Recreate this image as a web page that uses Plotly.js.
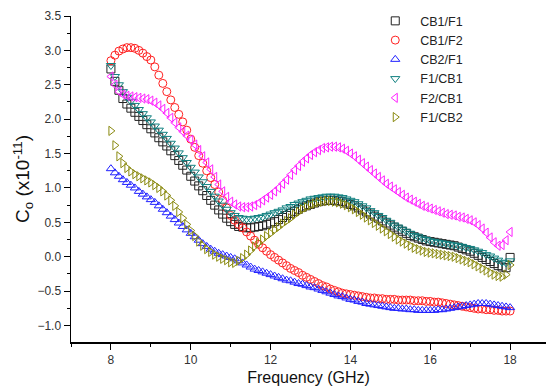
<!DOCTYPE html>
<html>
<head>
<meta charset="utf-8">
<script src="https://cdn.plot.ly/plotly-3.0.1.min.js"></script>
<style>html,body{margin:0;padding:0;background:#fff;}#chart{width:546px;height:387px;}</style>
</head>
<body>
<div id="chart"></div>
<script>
const freq = [8.0,8.1,8.2,8.3,8.4,8.5,8.6,8.7,8.8,8.9,
  9.0,9.1,9.2,9.3,9.4,9.5,9.6,9.7,9.8,9.9,
  10.0,10.1,10.2,10.3,10.4,10.5,10.6,10.7,10.8,10.9,
  11.0,11.1,11.2,11.3,11.4,11.5,11.6,11.7,11.8,11.9,
  12.0,12.1,12.2,12.3,12.4,12.5,12.6,12.7,12.8,12.9,
  13.0,13.1,13.2,13.3,13.4,13.5,13.6,13.7,13.8,13.9,
  14.0,14.1,14.2,14.3,14.4,14.5,14.6,14.7,14.8,14.9,
  15.0,15.1,15.2,15.3,15.4,15.5,15.6,15.7,15.8,15.9,
  16.0,16.1,16.2,16.3,16.4,16.5,16.6,16.7,16.8,16.9,
  17.0,17.1,17.2,17.3,17.4,17.5,17.6,17.7,17.8,17.9,
  18.0];

const cb1_f1 = [2.73,2.55,2.42,2.30,2.22,2.16,2.10,2.04,1.98,1.92,
  1.86,1.80,1.73,1.67,1.61,1.54,1.47,1.40,1.33,1.26,
  1.17,1.10,1.03,0.96,0.89,0.82,0.75,0.68,0.62,0.56,
  0.51,0.47,0.44,0.43,0.42,0.42,0.43,0.44,0.45,0.47,
  0.49,0.51,0.54,0.57,0.60,0.63,0.66,0.69,0.72,0.74,
  0.76,0.78,0.80,0.81,0.82,0.82,0.82,0.81,0.80,0.78,
  0.76,0.74,0.71,0.68,0.65,0.62,0.59,0.56,0.52,0.49,
  0.46,0.43,0.40,0.37,0.34,0.31,0.29,0.27,0.25,0.23,
  0.22,0.21,0.20,0.19,0.18,0.17,0.16,0.14,0.12,0.10,
  0.08,0.05,0.02,-0.01,-0.04,-0.07,-0.10,-0.13,-0.15,-0.16,
  -0.01];

const cb1_f2 = [2.85,2.93,2.99,3.02,3.04,3.04,3.03,3.00,2.96,2.91,
  2.86,2.76,2.64,2.52,2.40,2.28,2.17,2.07,1.96,1.84,
  1.71,1.59,1.47,1.36,1.25,1.15,1.05,0.94,0.82,0.71,
  0.60,0.53,0.47,0.42,0.36,0.30,0.24,0.18,0.13,0.08,
  0.03,-0.01,-0.05,-0.09,-0.13,-0.17,-0.20,-0.23,-0.27,-0.30,
  -0.33,-0.36,-0.39,-0.42,-0.44,-0.47,-0.49,-0.51,-0.53,-0.54,
  -0.55,-0.56,-0.57,-0.58,-0.59,-0.60,-0.60,-0.61,-0.61,-0.62,
  -0.62,-0.62,-0.63,-0.63,-0.63,-0.63,-0.64,-0.64,-0.64,-0.65,
  -0.65,-0.66,-0.66,-0.67,-0.68,-0.69,-0.70,-0.71,-0.72,-0.73,
  -0.74,-0.75,-0.76,-0.76,-0.77,-0.77,-0.78,-0.78,-0.79,-0.79,
  -0.79];

const cb2_f1 = [1.28,1.22,1.17,1.12,1.08,1.04,1.00,0.95,0.91,0.87,
  0.83,0.79,0.74,0.69,0.64,0.59,0.54,0.49,0.44,0.39,
  0.34,0.29,0.24,0.19,0.15,0.11,0.08,0.05,0.03,0.01,
  -0.01,-0.03,-0.06,-0.09,-0.12,-0.15,-0.18,-0.20,-0.22,-0.24,
  -0.26,-0.28,-0.30,-0.32,-0.34,-0.35,-0.37,-0.39,-0.40,-0.42,
  -0.44,-0.45,-0.47,-0.49,-0.51,-0.53,-0.55,-0.57,-0.58,-0.60,
  -0.62,-0.63,-0.65,-0.66,-0.68,-0.69,-0.70,-0.71,-0.72,-0.73,
  -0.74,-0.75,-0.75,-0.76,-0.76,-0.77,-0.77,-0.78,-0.78,-0.78,
  -0.78,-0.78,-0.77,-0.77,-0.76,-0.75,-0.74,-0.73,-0.72,-0.71,
  -0.70,-0.69,-0.68,-0.68,-0.68,-0.69,-0.70,-0.71,-0.72,-0.73,
  -0.74];

const f1_cb1 = [2.78,2.62,2.50,2.40,2.32,2.26,2.20,2.14,2.08,2.02,
  1.96,1.90,1.84,1.78,1.72,1.65,1.58,1.51,1.44,1.37,
  1.30,1.23,1.16,1.09,1.02,0.95,0.88,0.81,0.75,0.69,
  0.64,0.60,0.57,0.56,0.55,0.55,0.56,0.57,0.58,0.60,
  0.62,0.64,0.66,0.68,0.71,0.73,0.76,0.78,0.80,0.82,
  0.84,0.85,0.86,0.87,0.88,0.88,0.88,0.87,0.86,0.84,
  0.82,0.80,0.77,0.74,0.71,0.67,0.64,0.60,0.57,0.53,
  0.50,0.46,0.43,0.40,0.37,0.34,0.31,0.29,0.27,0.25,
  0.23,0.22,0.21,0.20,0.19,0.18,0.17,0.16,0.15,0.13,
  0.12,0.10,0.08,0.06,0.03,0.01,-0.02,-0.05,-0.08,-0.09,
  -0.06];

const f2_cb1 = [2.62,2.50,2.40,2.36,2.34,2.33,2.32,2.31,2.30,2.29,
  2.27,2.24,2.20,2.15,2.09,2.02,1.95,1.88,1.82,1.76,
  1.70,1.63,1.55,1.46,1.37,1.27,1.16,1.05,0.95,0.87,
  0.80,0.76,0.73,0.72,0.72,0.73,0.75,0.78,0.82,0.86,
  0.90,0.95,1.00,1.06,1.12,1.19,1.26,1.32,1.38,1.43,
  1.48,1.52,1.55,1.58,1.59,1.60,1.60,1.59,1.57,1.54,
  1.50,1.46,1.41,1.36,1.31,1.26,1.21,1.16,1.11,1.06,
  1.02,0.98,0.94,0.90,0.86,0.83,0.80,0.77,0.74,0.72,
  0.70,0.68,0.66,0.64,0.62,0.61,0.60,0.58,0.57,0.55,
  0.53,0.50,0.46,0.41,0.35,0.28,0.21,0.16,0.17,0.24,
  0.36];

const f1_cb2 = [1.83,1.62,1.46,1.36,1.29,1.24,1.20,1.17,1.14,1.11,
  1.08,1.04,1.00,0.95,0.89,0.82,0.74,0.65,0.56,0.47,
  0.38,0.30,0.22,0.16,0.11,0.07,0.03,0.00,-0.03,-0.05,
  -0.08,-0.09,-0.06,-0.02,0.03,0.09,0.15,0.20,0.25,0.30,
  0.34,0.39,0.43,0.48,0.52,0.56,0.61,0.65,0.69,0.72,
  0.75,0.77,0.79,0.80,0.81,0.81,0.80,0.79,0.77,0.75,
  0.72,0.69,0.65,0.61,0.57,0.53,0.49,0.45,0.41,0.37,
  0.33,0.29,0.25,0.22,0.19,0.16,0.13,0.11,0.09,0.07,
  0.06,0.05,0.04,0.03,0.02,0.01,0.00,-0.02,-0.04,-0.06,
  -0.08,-0.11,-0.14,-0.17,-0.20,-0.23,-0.26,-0.28,-0.29,-0.26,
  -0.12];

const seriesNames = ['CB1/F1','CB1/F2','CB2/F1','F1/CB1','F2/CB1','F1/CB2'];
const seriesData = [cb1_f1, cb1_f2, cb2_f1, f1_cb1, f2_cb1, f1_cb2];
const colors = ['#222222','#ff2020','#2020ff','#108080','#ff20ff','#8a8a10'];
const symbols = ['square-open','circle-open','triangle-up-open','triangle-down-open','triangle-left-open','triangle-right-open'];

const traces = seriesNames.map((name, i) => ({
  type: 'scatter',
  mode: 'markers',
  name: name,
  x: freq,
  y: seriesData[i],
  marker: {symbol: symbols[i], size: 8, color: colors[i], line: {width: 1, color: colors[i]}}
}));

const font = 'Arial, "Liberation Sans", sans-serif';
const layout = {
  width: 546, height: 387,
  margin: {l: 71, r: 0, t: 16, b: 45, pad: 0},
  paper_bgcolor: '#fff', plot_bgcolor: '#fff',
  font: {family: font, size: 12, color: '#333'},
  showlegend: true,
  legend: {x: 0.63, y: 1.03, xanchor: 'left', yanchor: 'top', bgcolor: 'rgba(0,0,0,0)',
    font: {family: font, size: 12.5, color: '#222'}, itemsizing: 'trace', itemwidth: 40, tracegroupgap: 0},
  xaxis: {
    range: [7, 18.9], showgrid: false, zeroline: false, showline: true, linecolor: '#000', linewidth: 1.5,
    ticks: 'outside', ticklen: 6, tickwidth: 1, tickcolor: '#000', tick0: 8, dtick: 2,
    minor: {ticks: 'outside', ticklen: 3, tickwidth: 1, tickcolor: '#000', dtick: 1, tick0: 7, showgrid: false},
    tickfont: {family: font, size: 12, color: '#333'},
    title: {text: 'Frequency (GHz)', font: {family: font, size: 16, color: '#111'}, standoff: 6}
  },
  yaxis: {
    range: [-1.24, 3.5], showgrid: false, zeroline: false, showline: true, linecolor: '#000', linewidth: 1.5,
    ticks: 'outside', ticklen: 6, tickwidth: 1, tickcolor: '#000', tick0: -1, dtick: 0.5, tickformat: '.1f',
    minor: {ticks: 'outside', ticklen: 3, tickwidth: 1, tickcolor: '#000', dtick: 0.25, tick0: -1, showgrid: false},
    tickfont: {family: font, size: 12, color: '#333'},
    title: {text: 'C<sub>o</sub> (x10<sup>-11</sup>)', font: {family: font, size: 19, color: '#111'}, standoff: 2}
  }
};

Plotly.newPlot('chart', traces, layout, {displayModeBar: false, staticPlot: true});
</script>
</body>
</html>
